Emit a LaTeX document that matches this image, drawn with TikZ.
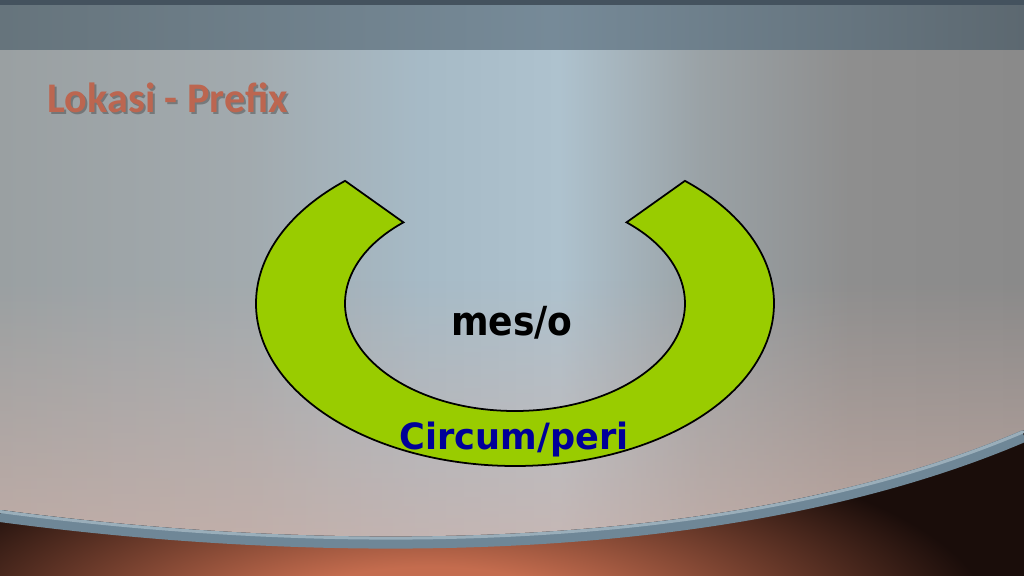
\documentclass[tikz,border=0pt]{standalone}
\usepackage{fontspec}
\newfontfamily\titlefont{Carlito}
\newfontfamily\bodyfont{DejaVu Sans}
\usetikzlibrary{fadings}
\definecolor{topA}{HTML}{66747C}
\definecolor{topB}{HTML}{768A98}
\definecolor{topC}{HTML}{5C6870}
\definecolor{topline}{HTML}{44525E}
\definecolor{bgA}{HTML}{9AA0A2}
\definecolor{bgB}{HTML}{A2AAAE}
\definecolor{bgC}{HTML}{A6BAC6}
\definecolor{bgD}{HTML}{AEC2CE}
\definecolor{bgE}{HTML}{9AA2A6}
\definecolor{bgF}{HTML}{8E8E8E}
\definecolor{bgG}{HTML}{8A8A8A}
\definecolor{pinkbg}{HTML}{D2B2A8}
\definecolor{darkbot}{HTML}{1A0D0A}
\definecolor{orangebot}{HTML}{C46C4E}
\definecolor{bandc}{HTML}{6F8797}
\definecolor{bandlight}{HTML}{9AAEBA}
\definecolor{arcgreen}{HTML}{99CC00}
\definecolor{navy}{HTML}{000099}
\definecolor{titlec}{HTML}{BC6650}
\pgfdeclarehorizontalshading{mainbg}{100bp}{color(0bp)=(bgA); color(25bp)=(bgA); color(37bp)=(bgB); color(45.5bp)=(bgC); color(52.3bp)=(bgD); color(59.2bp)=(bgE); color(66.5bp)=(bgF); color(75bp)=(bgG); color(100bp)=(bgG)}
\pgfdeclarehorizontalshading{topbg}{100bp}{color(0bp)=(topA); color(25bp)=(topA); color(52bp)=(topB); color(75bp)=(topC); color(100bp)=(topC)}
\pgfdeclareradialshading{botglow}{\pgfpoint{0bp}{0bp}}{color(0bp)=(orangebot); color(7bp)=(orangebot); color(25bp)=(darkbot); color(50bp)=(darkbot)}
\tikzfading[name=fadeup, top color=transparent!100, bottom color=transparent!25]
\tikzset{
  arcshape/.style={fill=arcgreen, draw=black, line width=0.5pt},
  labelmain/.style={font=\bodyfont\bfseries, inner sep=0pt, anchor=base},
  titlestyle/.style={font=\titlefont\bfseries\fontsize{12pt}{14pt}\selectfont, inner sep=0pt, anchor=base west}
}
\begin{document}
\begin{tikzpicture}[x=0.01cm, y=-0.01cm]
\useasboundingbox (0,0) rectangle (1024,576);
% main background
\shade[shading=mainbg] (0,0) rectangle (1024,576);
\fill[pinkbg, path fading=fadeup] (0,280) rectangle (1024,576);
% top bar
\shade[shading=topbg] (0,0) rectangle (1024,50);
\fill[topline] (0,0) rectangle (1024,5);
% bottom dark band
\fill[darkbot] (0,510) .. controls (300,550) and (720,560) .. (1024,430) -- (1024,576) -- (0,576) -- cycle;
\begin{scope}
  \clip (0,510) .. controls (300,550) and (720,560) .. (1024,430) -- (1024,576) -- (0,576) -- cycle;
  \shade[shading=botglow] (430,620) ellipse (560 and 190);
\end{scope}
\draw[bandc, line width=0.12cm] (0,516) .. controls (300,556) and (720,566) .. (1024,436);
\draw[bandlight, line width=0.03cm] (0,511.5) .. controls (300,551.5) and (720,561.5) .. (1024,431.5);
% title
\node[titlestyle, text=black!70, opacity=0.5] (titleshadow) at (49,115) {Lokasi - Prefix};
\node[titlestyle, text=titlec] (title) at (47,113) {Lokasi - Prefix};
% block arc
\coordinate (oc) at (515,303.5);
\coordinate (ic) at (515,303.5);
\path[arcshape] (oc) ++(229:259 and 162.5) coordinate (lefttip)
  arc[start angle=229, end angle=-49, x radius=259, y radius=162.5] coordinate (righttip)
  -- ([shift={(-49:170 and 107.5)}]ic)
  arc[start angle=-49, end angle=229, x radius=170, y radius=107.5] -- cycle;
\node[labelmain, text=black, font=\bodyfont\bfseries\fontsize{11.4pt}{13pt}\selectfont, xscale=0.9] (meso) at (512,336) {mes/o};
\node[labelmain, text=navy, font=\bodyfont\bfseries\fontsize{10.3pt}{12pt}\selectfont, xscale=0.97] (circum) at (514,449) {Circum/peri};
\end{tikzpicture}
\end{document}
